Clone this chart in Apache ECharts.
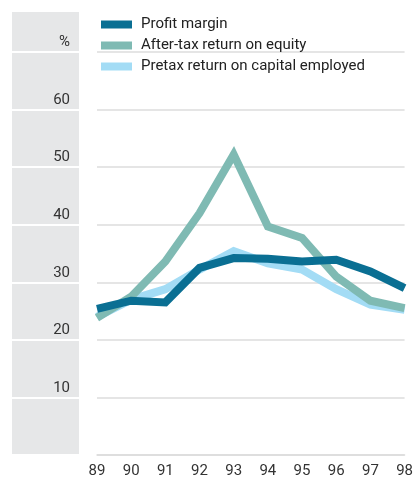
<!DOCTYPE html>
<html><head><meta charset="utf-8">
<script src="https://cdn.jsdelivr.net/npm/echarts@6/dist/echarts.min.js"></script>
<style>html,body{margin:0;padding:0;background:#fff}#c{width:416px;height:479px}</style>
</head><body><div id="c"></div>
<script>
const years = ['89','90','91','92','93','94','95','96','97','98'];
const profitMargin = [25.4, 26.8, 26.5, 32.5, 34.2, 34.1, 33.6, 33.9, 31.9, 29.0];
const afterTaxROE = [23.8, 27.5, 33.6, 42.0, 52.2, 39.7, 37.7, 31.0, 26.8, 25.5];
const pretaxROCE = [24.0, 27.0, 28.8, 32.2, 35.4, 33.3, 32.2, 28.8, 26.1, 25.2];
const seriesNames = ['Profit margin', 'After-tax return on equity', 'Pretax return on capital employed'];
const yTicks = [0, 10, 20, 30, 40, 50, 60, 70];

const chart = echarts.init(document.getElementById('c'), null, {renderer: 'canvas'});
const font = 'Roboto';
chart.setOption({
  animation: false,
  backgroundColor: '#fff',
  legend: {
    orient: 'vertical', left: 96, top: 11,
    itemWidth: 31, itemHeight: 8, itemGap: 4, icon: 'rect',
    data: seriesNames,
    textStyle: {fontFamily: font, fontSize: 15, color: '#222', padding: [0,0,0,4], lineHeight: 17}
  },
  graphic: [
    {type: 'rect', left: 12, top: 12, shape: {width: 67, height: 39}, style: {fill: '#e6e7e8'}, z: -1}
  ],
  grid: [
    {left: 97, right: 9, top: 52, bottom: 24, containLabel: false},
    {left: 12, width: 67, top: 52, bottom: 24, show: true, backgroundColor: '#e6e7e8', borderWidth: 0}
  ],
  xAxis: [
    {type: 'category', gridIndex: 0, data: years, boundaryGap: false,
     axisLine: {show: true, lineStyle: {color: '#dcdcdc', width: 1.5}},
     axisTick: {show: false},
     axisLabel: {fontFamily: font, fontSize: 15, color: '#333', margin: 9}},
    {type: 'value', gridIndex: 1, show: false}
  ],
  yAxis: [
    {type: 'value', gridIndex: 0, min: yTicks[0], max: yTicks[yTicks.length-1], interval: 10,
     axisLine: {show: false}, axisTick: {show: false}, axisLabel: {show: false},
     splitLine: {show: true, lineStyle: {color: '#dcdcdc', width: 1.5}}},
    {type: 'value', gridIndex: 1, min: yTicks[0], max: yTicks[yTicks.length-1], interval: 10,
     position: 'right',
     axisLine: {show: false}, axisTick: {show: false},
     axisLabel: {inside: true, margin: 9, fontFamily: font, fontSize: 15, color: '#333',
       verticalAlign: 'bottom', padding: [0,0,2,0],
       formatter: v => v === 70 ? '%' : (v === 0 ? '' : String(v))},
     splitLine: {show: true, lineStyle: {color: '#fff', width: 2}}}
  ],
  series: [
    {name: seriesNames[2], type: 'line', data: pretaxROCE, xAxisIndex: 0, yAxisIndex: 0,
     symbol: 'none', lineStyle: {color: '#a3dcf5', width: 8, join: 'miter'}, itemStyle: {color: '#a3dcf5'}, z: 2},
    {name: seriesNames[1], type: 'line', data: afterTaxROE, xAxisIndex: 0, yAxisIndex: 0,
     symbol: 'none', lineStyle: {color: '#7fbab3', width: 8, join: 'miter'}, itemStyle: {color: '#7fbab3'}, z: 3},
    {name: seriesNames[0], type: 'line', data: profitMargin, xAxisIndex: 0, yAxisIndex: 0,
     symbol: 'none', lineStyle: {color: '#0a6f93', width: 8, join: 'miter'}, itemStyle: {color: '#0a6f93'}, z: 4}
  ]
});
</script></body></html>
